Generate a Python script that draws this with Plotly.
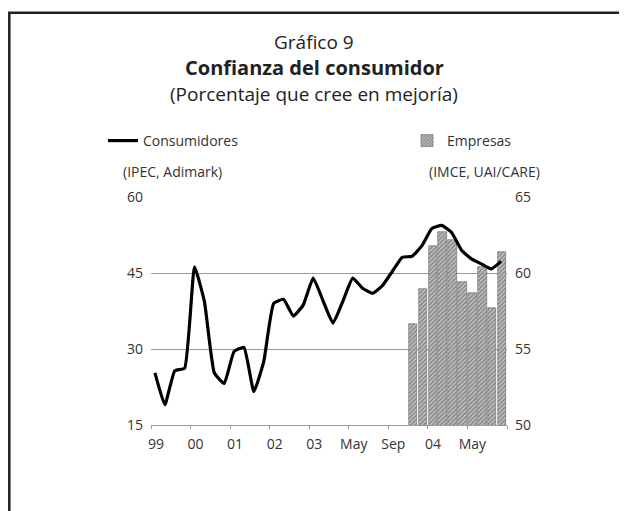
import plotly.graph_objects as go

# compressed time axis: 99..03 one unit per year, then one unit per 4 months
tick_pos = [0, 1, 2, 3, 4, 5, 6, 7, 8, 9]
tick_text = ["99", "00", "01", "02", "03", "May", "Sep", "04", "May", ""]

# Consumidores (IPEC, Adimark), left axis
cons_x = [0.10, 0.35, 0.60, 0.85, 1.10, 1.35, 1.60, 1.85, 2.10, 2.35, 2.60, 2.85,
          3.10, 3.35, 3.60, 3.85, 4.10, 4.35, 4.60, 4.85, 5.10, 5.35, 5.60, 5.85,
          6.10, 6.35, 6.60, 6.85, 7.10, 7.35, 7.60, 7.85, 8.10, 8.35, 8.60, 8.85]
cons_y = [25.3, 19.0, 25.7, 26.2, 46.2, 39.4, 25.3, 23.2, 29.5, 30.3, 21.6, 27.5,
          39.0, 39.8, 36.5, 38.7, 44.0, 39.5, 35.1, 39.4, 44.0, 42.0, 41.0, 42.5,
          45.3, 48.1, 48.3, 50.4, 53.8, 54.4, 53.0, 49.5, 47.8, 46.8, 45.8, 47.3]

# Empresas (IMCE, UAI/CARE), right axis, monthly
emp_x = [6.625, 6.875, 7.125, 7.375, 7.625, 7.875, 8.125, 8.375, 8.625, 8.875]
emp_y = [56.65, 58.95, 61.8, 62.7, 62.2, 59.4, 58.7, 60.4, 57.7, 61.4]

FONT = "Open Sans"
TXT = "#333333"
GRID = "#9a9a9a"

# plot area in page pixels (the page body adds an 8px offset)
OFF = 8
L, R, T, B = 151, 507, 197, 425


def px(x):
    return (x - L) / (R - L)


def py(y):
    return (B - y) / (B - T)


fig = go.Figure()

fig.add_trace(go.Bar(
    x=emp_x, y=emp_y, base=0, width=0.215,
    name="Empresas", yaxis="y", showlegend=True,
    marker=dict(
        color="#b8b8b8",
        line=dict(color="#666666", width=0.6),
        pattern=dict(shape="/", size=3, solidity=0.5, fgcolor="#444444",
                     bgcolor="#c4c4c4"),
    ),
    legend="legend2",
))

fig.add_trace(go.Scatter(
    x=cons_x, y=cons_y, mode="lines", yaxis="y2", showlegend=True,
    name="Consumidores",
    line=dict(color="black", width=3.2, shape="spline", smoothing=0.4),
    legend="legend",
))

titles = [
    ("Gráfico 9", 42, 19),
    ("<b>Confianza del consumidor</b>", 67, 20),
    ("(Porcentaje que cree en mejoría)", 94, 19),
]
ann = []
for text, y, size in titles:
    ann.append(dict(
        text=text, x=px(314), y=py(y), xref="paper", yref="paper",
        xanchor="center", yanchor="middle", showarrow=False,
        font=dict(family=FONT, size=size, color="#222222"),
    ))
ann.append(dict(text="(IPEC, Adimark)", x=px(121), y=py(171), xref="paper", yref="paper",
                xanchor="left", yanchor="middle", showarrow=False,
                font=dict(family=FONT, size=14, color=TXT)))
ann.append(dict(text="(IMCE, UAI/CARE)", x=px(542), y=py(171), xref="paper", yref="paper",
                xanchor="right", yanchor="middle", showarrow=False,
                font=dict(family=FONT, size=14, color=TXT)))

frame = dict(
    type="path", xref="paper", yref="paper",
    path=f"M {px(9.3)},{py(520)} L {px(9.3)},{py(12.7)} L {px(660)},{py(12.7)}",
    line=dict(color="#222222", width=2.5),
)

fig.update_layout(
    width=627, height=511,
    margin=dict(l=L - OFF, r=627 - (R - OFF), t=T - OFF, b=511 - (B - OFF), pad=0),
    paper_bgcolor="white", plot_bgcolor="white",
    font=dict(family=FONT, size=14, color=TXT),
    showlegend=True,
    bargap=0,
    xaxis=dict(
        range=[0, 9], tickvals=tick_pos, ticktext=tick_text,
        ticks="outside", ticklen=3, tickcolor=GRID, tickwidth=1,
        showline=True, linecolor=GRID, linewidth=1,
        showgrid=False, zeroline=False, ticklabelshift=5, ticklabelstandoff=3,
        tickfont=dict(family=FONT, size=14, color=TXT),
    ),
    yaxis=dict(
        range=[50, 65], tickvals=[50, 55, 60, 65], side="right",
        showgrid=True, gridcolor=GRID, gridwidth=1, zeroline=False,
        showline=False, ticks="", ticklabelstandoff=7,
        tickfont=dict(family=FONT, size=14, color=TXT),
    ),
    yaxis2=dict(
        range=[15, 60], tickvals=[15, 30, 45, 60], side="left", overlaying="y",
        showgrid=False, zeroline=False, showline=False, ticks="",
        ticklabelstandoff=7,
        tickfont=dict(family=FONT, size=14, color=TXT),
    ),
    legend=dict(
        x=px(103), y=py(125), xanchor="left", yanchor="top",
        bgcolor="rgba(0,0,0,0)", borderwidth=0, itemwidth=30,
        font=dict(family=FONT, size=14, color=TXT),
    ),
    legend2=dict(
        x=px(407), y=py(125), xanchor="left", yanchor="top",
        bgcolor="rgba(0,0,0,0)", borderwidth=0, itemwidth=30,
        font=dict(family=FONT, size=14, color=TXT),
    ),
    annotations=ann,
    shapes=[frame],
)

fig.write_html("out.html")
